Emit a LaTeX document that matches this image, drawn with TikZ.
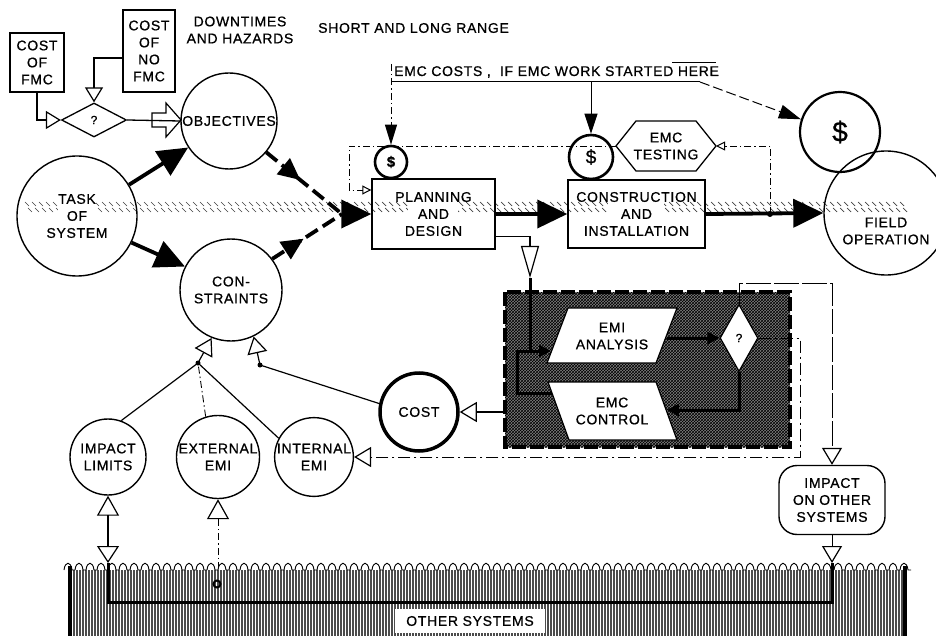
\documentclass[tikz,border=0pt]{standalone}
\usepackage{fontspec}
\setmainfont{Liberation Sans}[LetterSpace=5, FakeBold=0.8]
\usetikzlibrary{arrows.meta,calc,patterns,decorations.markings,shapes.geometric}
\pgfdeclarelayer{bg}
\pgfsetlayers{bg,main}
\begin{document}
\begin{tikzpicture}[x=1pt,y=-1pt,
  txt/.style={font=\fontsize{14}{17}\selectfont, align=center, inner sep=0pt},
  circ/.style={circle, draw, line width=1.4pt, inner sep=0pt, txt},
  boxn/.style={draw, line width=1.4pt, txt},
  thk/.style={line width=3.8pt},
  bigtip/.style={-{Triangle[length=30pt,width=28pt]}},
  opn/.style={-{Triangle[open,length=17pt,width=20pt,line width=1.2pt]}},
  smallopn/.style={-{Triangle[open,length=9pt,width=9pt,line width=1pt]}},
  ddash/.style={line width=0.9pt, dash pattern=on 7pt off 3pt on 1.5pt off 3pt},
  midarrow/.style={postaction={decorate}, decoration={markings, mark=at position #1 with {\arrow{Triangle[length=22pt,width=20pt]}}}},
]
\useasboundingbox (0,0) rectangle (936,636);

% ---------- top left ----------
\node[boxn, line width=2.6pt, minimum width=54pt, minimum height=59pt] (fmc) at (37,62.5) {COST\\OF\\FMC};
\node[boxn, line width=2.6pt, minimum width=52pt, minimum height=82pt] (nofmc) at (149,51) {COST\\OF\\NO\\FMC};
\node[txt] (dh) at (240,30) {DOWNTIMES\\AND HAZARDS};
\node[txt, anchor=west] (slr) at (318,28) {SHORT AND LONG RANGE};
\node[diamond, draw, line width=1.3pt, minimum width=65pt, minimum height=34pt, inner sep=0pt, font=\fontsize{12}{12}\selectfont] (q1) at (94,120) {?};

\draw[line width=2.5pt, -{Triangle[open,length=15pt,width=18pt,line width=1.2pt]}] (fmc.south) |- (q1.west);
\draw[line width=2.5pt, -{Triangle[open,length=15pt,width=18pt,line width=1.2pt]}] (nofmc.west |- 0,58) -| (q1.north);

\node[circ, minimum size=96pt] (obj) at (229,121) {OBJECTIVES};
\node[circ, minimum size=120pt] (task) at (77,216) {TASK\\OF\\SYSTEM};
\node[circ, minimum size=102pt] (con) at (231,290) {CON-\\STRAINTS};

\draw[line width=1.3pt] (q1.east) -- (obj.west);
\draw[line width=1.2pt] (152,113) -- (166,113) -- (166,103) -- (181,120) -- (166,137) -- (166,127) -- (152,127) -- cycle;

% ---------- main row ----------
\node[boxn, minimum width=123pt, minimum height=70pt] (plan) at (433.5,214) {PLANNING\\AND\\DESIGN};
\node[boxn, minimum width=137pt, minimum height=68pt] (cons) at (636.5,214) {CONSTRUCTION\\AND\\INSTALLATION};
\node[circle, draw, line width=1.4pt, minimum size=124pt] (field) at (886,213) {};
\node[txt] (fieldtxt) at (886,231) {FIELD\\OPERATION};

\node[circle, draw, line width=2.6pt, minimum size=32pt, inner sep=0pt, font=\bfseries\fontsize{15}{15}\selectfont] (d1) at (391,162) {\$};
\node[circle, draw, line width=2.6pt, minimum size=44pt, inner sep=0pt, font=\fontsize{19}{19}\selectfont] (d2) at (591,157) {\$};
\node[circle, draw, line width=2.2pt, minimum size=80pt, inner sep=0pt, font=\fontsize{28}{28}\selectfont] (d3) at (840,132) {\$};

\coordinate (m) at (342,214);
\draw[thk, bigtip] (task.31) -- (obj.213);
\draw[thk, bigtip] (task.-26) -- (con.153);
\draw[thk, dash pattern=on 14pt off 6pt, midarrow=0.45] (obj.-40) -- (m);
\draw[thk, dash pattern=on 14pt off 6pt, midarrow=0.45] (con.37) -- (m);
\draw[thk, bigtip] (m) -- (plan.west);
\draw[thk, bigtip] (plan.east) -- (cons.west);
\draw[thk, bigtip] (cons.east) -- (field.west);
\coordinate (jd) at (770,214);
\fill (jd) circle (3pt);

% ---------- EMC costs line ----------
\node[txt, anchor=west] (emccost) at (394,72) {EMC COSTS ,\ \ IF EMC WORK STARTED HERE};
\coordinate (ulL) at (391,82);
\coordinate (ulR) at (700,82);
\draw[line width=1pt] (ulL) -- (ulR);
\draw[line width=1pt] (672,63) -- (716,63);
\draw[ddash, line width=1pt, -{Triangle[length=20pt,width=12pt]}] (391,64) -- (d1.north);
\draw[line width=1pt, -{Triangle[length=20pt,width=13pt]}] (d2.north |- ulL) -- (d2.north);
\draw[line width=1pt, dash pattern=on 10pt off 4pt, -{Triangle[length=22pt,width=14pt]}] (ulR) -- (d3.162);

% ---------- EMC testing ----------
\node[txt] (testing) at (666,146) {EMC\\TESTING};
\coordinate (hxl) at (616,146);
\coordinate (hxr) at (716,146);
\draw[line width=1.3pt] (hxl) -- (636,121) -- (696,121) -- (hxr) -- (696,171) -- (636,171) -- cycle;
\draw[ddash, smallopn] (hxl) -- (349,146) -- (349,190) -- (plan.west |- 0,190);
\draw[ddash, smallopn] (jd) -- (770,146) -- (hxr);

% ---------- shaded box ----------
\fill[black!50] (505,292) rectangle (790,447);
\fill[pattern=crosshatch, pattern color=black] (505,292) rectangle (790,447);
\draw[line width=3.5pt, dash pattern=on 14pt off 4pt] (505,292) rectangle (790,447);
\draw[line width=1.2pt, fill=white] (547,363) -- (568,308) -- (677,308) -- (656,363) -- cycle;
\node[txt] (emi) at (612,336) {EMI\\ANALYSIS};
\draw[line width=1.2pt, fill=white] (548,382) -- (656,382) -- (677,440) -- (569,440) -- cycle;
\node[txt] (emc) at (612,411) {EMC\\CONTROL};
\node[diamond, draw, fill=white, line width=1.2pt, minimum width=38pt, minimum height=67pt, inner sep=0pt, font=\fontsize{12}{12}\selectfont] (q2) at (739,338) {?};

\draw[line width=1.6pt, -{Triangle[open,length=32pt,width=18pt,line width=1.2pt]}] ($(plan.south east)+(0,-13)$) -| (530,278);
\draw[line width=3pt, -{Triangle[length=12pt,width=12pt]}] (530,278) -- (530,351) -- (551,351);
\draw[line width=3pt] (552,393) -- (517,393) -- (517,351) -- (530,351);
\draw[line width=3pt, -{Triangle[length=12pt,width=12pt]}] (667,338) -- (q2.west);
\draw[line width=3pt, -{Triangle[length=12pt,width=12pt]}] (q2.south) |- (667,410);

% ---------- lower left ----------
\node[circle, draw, line width=3.5pt, minimum size=78pt, inner sep=0pt, txt] (cost) at (419,412) {COST};
\node[circ, minimum size=76pt] (imp) at (108,457) {IMPACT\\LIMITS};
\node[circ, minimum size=76pt] (ext) at (218,457) {EXTERNAL\\EMI};
\node[circ, minimum size=76pt] (int) at (314,457) {INTERNAL\\EMI};

\draw[line width=1.2pt, opn] (505,412) -- (cost.east);
\coordinate (j1) at (198,363);
\coordinate (j2) at (260,365);
\draw[line width=1.2pt] (cost.168) -- (j2);
\draw[line width=1.2pt, opn] (j2) -- (con.-64);
\draw[line width=1.2pt, opn] (j1) -- (con.-112);
\draw[line width=1.2pt] (imp.70) -- (j1);
\draw[ddash] (ext.107) -- (j1);
\draw[line width=1.2pt] (int.152) -- (j1);
\fill (j1) circle (2.5pt);
\fill (j2) circle (2.5pt);

% ---------- impact on other systems ----------
\node[boxn, rounded corners=18pt, minimum width=106pt, minimum height=69pt] (ios) at (832,500) {IMPACT\\ON OTHER\\SYSTEMS};
\draw[line width=1pt, dash pattern=on 25pt off 3pt, opn] (q2.north) |- (ios.north |- 0,283) -- (ios.north);
\draw[line width=1pt, dash pattern=on 12pt off 4pt on 2pt off 4pt, opn] (q2.east) -- (800,338) -- (800,457) -- (int.east);

% ---------- other systems ----------
\foreach \x in {71,74,...,904} \draw[line width=1.4pt, black!70] (\x,570) -- (\x,636);
\foreach \x in {64,75,...,900} \draw[line width=0.9pt] (\x,570) .. controls (\x+1,561) and (\x+7,561) .. (\x+8,570) -- (\x+11,570);
\draw[line width=4pt] (70,566) -- (70,636);
\draw[line width=4pt] (905,566) -- (905,636);
\node[fill=white, txt, minimum width=150pt, minimum height=24pt] (other) at (470,621) {OTHER SYSTEMS};
\coordinate (o1) at (108,563);
\coordinate (o2) at (218,567);
\coordinate (o3) at (832,563);
\draw[line width=3pt] (o1) -- (108,602) -- (832,602) -- (o3);
\draw[line width=1.4pt, {Triangle[open,length=20pt,width=22pt,line width=1.2pt]}-{Triangle[open,length=17pt,width=22pt,line width=1.2pt]}] (imp.south) -- (o1);
\draw[ddash, {Triangle[open,length=20pt,width=22pt,line width=1.2pt]}-] (ext.south) -- (o2);
\draw[line width=2pt] (217,584) circle (3.5pt);
\draw[line width=1pt, opn] (ios.south) -- (o3);

% ---------- hatched band ----------
\begin{pgfonlayer}{bg}
\foreach \x in {25,32,...,905} {
  \draw[line width=0.7pt, black!75] (\x,202) -- ++(4,4);
  \draw[line width=0.7pt, black!75] (\x+3,208) -- ++(4,4);
}
\fill[white] (58,199) rectangle (96,214);
\fill[white] (408,199) rectangle (458,214);
\fill[white] (608,199) rectangle (664,214);
\end{pgfonlayer}
\end{tikzpicture}
\end{document}
